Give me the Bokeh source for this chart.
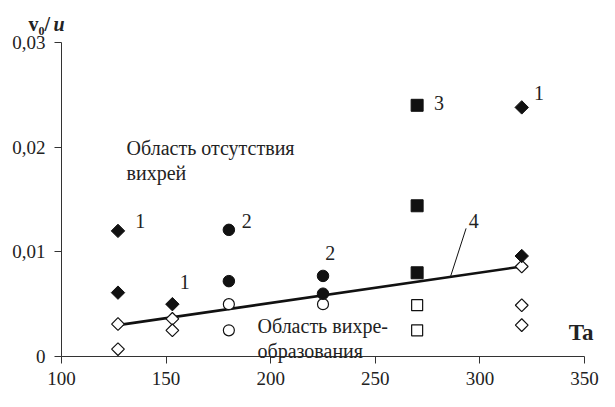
import math
from bokeh.plotting import figure
from bokeh.models import Label, FixedTicker, Range1d, LinearAxis
from bokeh.embed import file_html
from bokeh.resources import INLINE

# ---- data ----
# series 1 (diamonds)
ta_d_filled = [127, 127, 153, 320, 320]
v_d_filled = [0.0120, 0.0061, 0.0050, 0.0238, 0.0096]
ta_d_open = [127, 127, 153, 153, 320, 320, 320]
v_d_open = [0.0031, 0.0007, 0.0036, 0.0025, 0.0086, 0.0049, 0.0030]
# series 2 (circles)
ta_c_filled = [180, 180, 225, 225]
v_c_filled = [0.0121, 0.0072, 0.0077, 0.0060]
ta_c_open = [180, 180, 225]
v_c_open = [0.0050, 0.0025, 0.0050]
# series 3 (squares)
ta_s_filled = [270, 270, 270]
v_s_filled = [0.0240, 0.0144, 0.0080]
ta_s_open = [270, 270]
v_s_open = [0.0049, 0.0025]
# curve 4 (boundary)
line_ta = [127, 320]
line_v = [0.0030, 0.0086]
leader_ta = [286, 293.4]
leader_v = [0.00766, 0.01224]

x_ticks = [100, 150, 200, 250, 300, 350]
y_ticks = [0, 0.01, 0.02, 0.03]
y_tick_labels = ["0", "0,01", "0,02", "0,03"]

# series number labels: (x, y, text)
num_labels = [
    (137.6, 0.0129, "1"),
    (188.6, 0.0129, "2"),
    (158.9, 0.0071, "1"),
    (228.5, 0.0099, "2"),
    (280.4, 0.0242, "3"),
    (328.2, 0.0252, "1"),
    (297.1, 0.0129, "4"),
]

FONT = "'Liberation Serif', 'Times New Roman', 'DejaVu Serif', serif"
INK = "#111111"
TXT = "#222222"

W, H = 599, 391
# frame covers the whole canvas; axes are placed at fixed data locations
LEFT, RIGHT, TOP, BOTTOM = 61, 584, 42, 356
px_x = (RIGHT - LEFT) / 250.0
px_y = (BOTTOM - TOP) / 0.03
x0 = 100 - LEFT / px_x
x1 = 100 + (W - LEFT) / px_x
y1 = 0.03 + TOP / px_y
y0 = -(H - BOTTOM) / px_y


def dx(px):
    return x0 + px / px_x


def dy(py):
    return y1 - py / px_y


p = figure(width=W, height=H,
           x_range=Range1d(x0, x1), y_range=Range1d(y0, y1),
           x_axis_location=None, y_axis_location=None,
           output_backend="svg", toolbar_location=None,
           min_border=0)
p.title.visible = False
p.outline_line_color = None
p.xgrid.visible = False
p.ygrid.visible = False
p.background_fill_color = "white"
p.border_fill_color = "white"

xaxis = LinearAxis(ticker=FixedTicker(ticks=x_ticks), bounds=(100, 350), fixed_location=0)
yaxis = LinearAxis(ticker=FixedTicker(ticks=y_ticks), bounds=(0, 0.03), fixed_location=100)
yaxis.major_label_overrides = {t: l for t, l in zip(y_ticks, y_tick_labels)}
for ax in (xaxis, yaxis):
    ax.axis_line_color = "#333333"
    ax.axis_line_width = 1
    ax.major_tick_line_color = "#333333"
    ax.major_tick_out = 7
    ax.major_tick_in = 0
    ax.minor_tick_line_color = None
    ax.major_label_text_font = FONT
    ax.major_label_text_font_size = "19px"
    ax.major_label_text_color = TXT
xaxis.major_label_standoff = 8
yaxis.major_label_standoff = 9
p.add_layout(xaxis, "below")
p.add_layout(yaxis, "left")

# boundary line and leader
p.line(line_ta, line_v, line_color=INK, line_width=2.6)
p.line(leader_ta, leader_v, line_color=INK, line_width=1)

# markers
p.scatter(ta_d_open, v_d_open, marker="square", angle=math.pi / 4, size=9,
          fill_color="white", line_color=INK, line_width=1.2)
p.scatter(ta_d_filled, v_d_filled, marker="square", angle=math.pi / 4, size=9.5,
          fill_color=INK, line_color=INK, line_width=1)
p.scatter(ta_c_open, v_c_open, marker="circle", size=11,
          fill_color="white", line_color=INK, line_width=1.2)
p.scatter(ta_c_filled, v_c_filled, marker="circle", size=11.5,
          fill_color=INK, line_color=INK, line_width=1)
p.scatter(ta_s_open, v_s_open, marker="square", size=11,
          fill_color="white", line_color=INK, line_width=1.2)
p.scatter(ta_s_filled, v_s_filled, marker="square", size=12,
          fill_color=INK, line_color=INK, line_width=1)

for x, y, t in num_labels:
    p.add_layout(Label(x=x, y=y, text=t, text_font=FONT, text_font_size="20px",
                       text_color=TXT, text_align="center", text_baseline="middle"))

# region texts
regions = [
    (131.1, 0.0199, "Область отсутствия"),
    (131.1, 0.01757, "вихрей"),
    (193.7, 0.0029, "Область вихре-"),
    (193.7, 0.00056, "образования"),
]
for x, y, t in regions:
    p.add_layout(Label(x=x, y=y, text=t, text_font=FONT, text_font_size="20px",
                       text_color=TXT, text_align="left", text_baseline="alphabetic"))

# axis titles
p.add_layout(Label(x=dx(28), y=dy(23), text="v₀/", text_font=FONT, text_font_size="20px",
                   text_font_style="bold", text_color=TXT,
                   text_align="left", text_baseline="alphabetic"))
p.add_layout(Label(x=dx(53), y=dy(23), text="u", text_font=FONT, text_font_size="20px",
                   text_font_style="bold italic", text_color=TXT,
                   text_align="left", text_baseline="alphabetic"))
p.add_layout(Label(x=348.4, y=0.0023, text="Ta", text_font=FONT, text_font_size="23px",
                   text_font_style="bold", text_color=TXT,
                   text_align="center", text_baseline="middle"))

open("out.html", "w").write(file_html(p, INLINE))
